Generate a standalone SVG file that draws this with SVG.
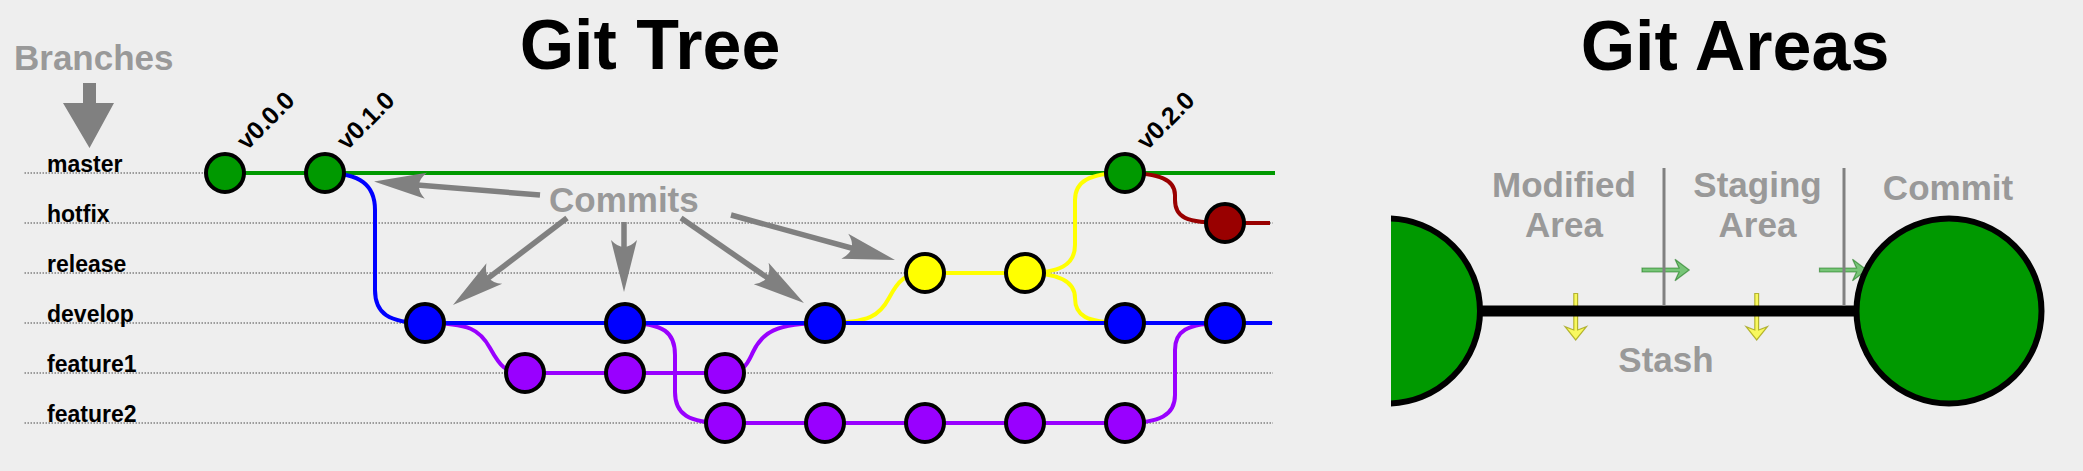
<svg xmlns="http://www.w3.org/2000/svg" width="2083" height="471" viewBox="0 0 2083 471">
<style>
.title{font-family:"Liberation Sans",Arial,sans-serif;font-weight:bold;font-size:70px;fill:#000;text-anchor:middle}
.note{font-family:"Liberation Sans",Arial,sans-serif;font-weight:bold;font-size:35px;fill:#999}
.mid{text-anchor:middle}
.lbl{font-family:"Liberation Sans",Arial,sans-serif;font-weight:bold;font-size:23px;fill:#000}
.tag{font-family:"Liberation Sans",Arial,sans-serif;font-weight:bold;font-size:25px;fill:#000}
.row{stroke:#808080;stroke-width:1.5;stroke-dasharray:1.5 1.5;fill:none}
.ln{fill:none;stroke-width:4}
.c{stroke:#000;stroke-width:4}
.g{fill:#009900}.b{fill:#0000ff}.p{fill:#9900ff}.y{fill:#ffff00}.r{fill:#990000}
.ann{stroke:#808080;stroke-width:5.5;fill:none;marker-end:url(#ah)}
.garr{fill:#009900;fill-opacity:0.5;stroke:#006600;stroke-opacity:0.5;stroke-width:1.2}
.yarr{fill:#ffff00;fill-opacity:0.6;stroke:#999900;stroke-opacity:0.7;stroke-width:1.2}
</style>
<defs>
<marker id="ah" markerUnits="userSpaceOnUse" viewBox="-60 -16 64 32" markerWidth="64" markerHeight="32" refX="-34" refY="0" orient="auto">
<path d="M0,0 L-52,-13 Q-38,0 -52,13 Z" fill="#808080"/>
</marker>
<clipPath id="half"><rect x="1391" y="150" width="200" height="300"/></clipPath>
</defs>
<rect width="2083" height="471" fill="#eeeeee"/>

<text class="title" x="650" y="69">Git Tree</text>
<text class="title" x="1735" y="70">Git Areas</text>

<g id="branches-legend">
<text class="note" x="14" y="70">Branches</text>
<path d="M83,83 L96,83 L96,103 L114,103 L89.5,148 L63,103 L83,103 Z" fill="#808080"/>
</g>

<g id="rows">
<line class="row" x1="24.5" y1="173" x2="1273" y2="173"/>
<line class="row" x1="24.5" y1="223" x2="1273" y2="223"/>
<line class="row" x1="24.5" y1="273" x2="1273" y2="273"/>
<line class="row" x1="24.5" y1="323" x2="1273" y2="323"/>
<line class="row" x1="24.5" y1="373" x2="1273" y2="373"/>
<line class="row" x1="24.5" y1="423" x2="1273" y2="423"/>
<text class="lbl" x="47" y="172">master</text>
<text class="lbl" x="47" y="222">hotfix</text>
<text class="lbl" x="47" y="272">release</text>
<text class="lbl" x="47" y="322">develop</text>
<text class="lbl" x="47" y="372">feature1</text>
<text class="lbl" x="47" y="422">feature2</text>
</g>

<g id="connectors">
<path class="ln" stroke="#009900" d="M226,173 L1275,173"/>
<path class="ln" stroke="#990000" d="M1125,173 C1160,173 1175,180 1175,195 L1175,200 C1175,217 1185,223 1226,223 L1270,223"/>
<path class="ln" stroke="#ffff00" d="M825,323 C870,323 880,315 889,298 S905,273 925,273 L1025,273"/>
<path class="ln" stroke="#ffff00" d="M1025,273 C1060,273 1075,265 1075,245 L1075,200 C1075,182 1088,173 1125,173"/>
<path class="ln" stroke="#ffff00" d="M1025,273 C1060,273 1075,282 1075,298 C1075,315 1085,323 1125,323"/>
<path class="ln" stroke="#9900ff" d="M525,373 L725,373"/>
<path class="ln" stroke="#9900ff" d="M725,423 L1125,423"/>
<path class="ln" stroke="#9900ff" d="M425,323 C470,323 480,330 490,348 S505,373 525,373"/>
<path class="ln" stroke="#9900ff" d="M625,323 C665,323 675,333 675,355 L675,392 C675,414 688,423 725,423"/>
<path class="ln" stroke="#9900ff" d="M725,373 C745,373 748,362 753,352 C762,333 775,323 825,323"/>
<path class="ln" stroke="#9900ff" d="M1125,423 C1160,423 1175,415 1175,395 L1175,350 C1175,332 1185,323 1225,323"/>
<path class="ln" stroke="#0000ff" d="M425,323 L1272,323"/>
<path class="ln" stroke="#0000ff" d="M325,173 C360,173 375,185 375,210 L375,290 C375,313 388,323 425,323"/>
</g>

<g id="master-commits">
<circle id="m1" class="c g" cx="225" cy="173" r="19"/>
<circle id="m2" class="c g" cx="325" cy="173" r="19"/>
<circle id="m3" class="c g" cx="1125" cy="173" r="19"/>
</g>
<g id="hotfix-commits">
<circle id="h1" class="c r" cx="1225" cy="223" r="19"/>
</g>
<g id="release-commits">
<circle id="r1" class="c y" cx="925" cy="273" r="19"/>
<circle id="r2" class="c y" cx="1025" cy="273" r="19"/>
</g>
<g id="develop-commits">
<circle id="d1" class="c b" cx="425" cy="323" r="19"/>
<circle id="d2" class="c b" cx="625" cy="323" r="19"/>
<circle id="d3" class="c b" cx="825" cy="323" r="19"/>
<circle id="d4" class="c b" cx="1125" cy="323" r="19"/>
<circle id="d5" class="c b" cx="1225" cy="323" r="19"/>
</g>
<g id="feature1-commits">
<circle id="f11" class="c p" cx="525" cy="373" r="19"/>
<circle id="f12" class="c p" cx="625" cy="373" r="19"/>
<circle id="f13" class="c p" cx="725" cy="373" r="19"/>
</g>
<g id="feature2-commits">
<circle id="f21" class="c p" cx="725" cy="423" r="19"/>
<circle id="f22" class="c p" cx="825" cy="423" r="19"/>
<circle id="f23" class="c p" cx="925" cy="423" r="19"/>
<circle id="f24" class="c p" cx="1025" cy="423" r="19"/>
<circle id="f25" class="c p" cx="1125" cy="423" r="19"/>
</g>

<g id="tags">
<text class="tag" transform="translate(247,151) rotate(-45)">v0.0.0</text>
<text class="tag" transform="translate(347,151) rotate(-45)">v0.1.0</text>
<text class="tag" transform="translate(1147,151) rotate(-45)">v0.2.0</text>
</g>

<g id="commits-note">
<text class="note" x="549" y="212">Commits</text>
<line class="ann" x1="540" y1="195" x2="407.9" y2="184.3"/>
<line class="ann" x1="567" y1="218" x2="480" y2="284.4"/>
<line class="ann" x1="624" y1="222" x2="624" y2="258"/>
<line class="ann" x1="681" y1="218" x2="776" y2="283.7"/>
<line class="ann" x1="731" y1="215" x2="862.2" y2="251"/>
</g>

<g id="areas-arrows">
<path class="yarr" d="M1573.8,293.5 L1577.6,293.5 L1577.6,330 L1586.5,326.7 L1575.7,340 L1565,326.7 L1573.8,330 Z"/>
<path class="yarr" d="M1754.8,293.5 L1758.6,293.5 L1758.6,330 L1767.5,326.7 L1756.7,340 L1746,326.7 L1754.8,330 Z"/>
<path class="garr" d="M1642,268 L1679,268 L1675,259.3 L1689.3,270 L1675,280.7 L1679,272 L1642,272 Z"/>
<path class="garr" d="M1819.5,268 L1856.5,268 L1852.5,259.3 L1866.8,270 L1852.5,280.7 L1856.5,272 L1819.5,272 Z"/>
</g>

<g id="areas-track">
<line x1="1470" y1="311" x2="1870" y2="311" stroke="#000" stroke-width="11"/>
<line x1="1664" y1="168" x2="1664" y2="306" stroke="#808080" stroke-width="3"/>
<line x1="1844" y1="168" x2="1844" y2="306" stroke="#808080" stroke-width="3"/>
</g>

<g id="working-dir">
<circle cx="1387.5" cy="311" r="92.5" fill="#009900" stroke="#000" stroke-width="6" clip-path="url(#half)"/>
</g>
<g id="commit-area">
<circle cx="1949" cy="311" r="92.5" fill="#009900" stroke="#000" stroke-width="6"/>
</g>

<g id="areas-labels">
<text class="note mid" x="1564" y="197">Modified</text>
<text class="note mid" x="1564" y="237">Area</text>
<text class="note mid" x="1757.5" y="197">Staging</text>
<text class="note mid" x="1757.5" y="237">Area</text>
<text class="note mid" x="1948" y="200">Commit</text>
<text class="note mid" x="1666" y="372">Stash</text>
</g>
</svg>
